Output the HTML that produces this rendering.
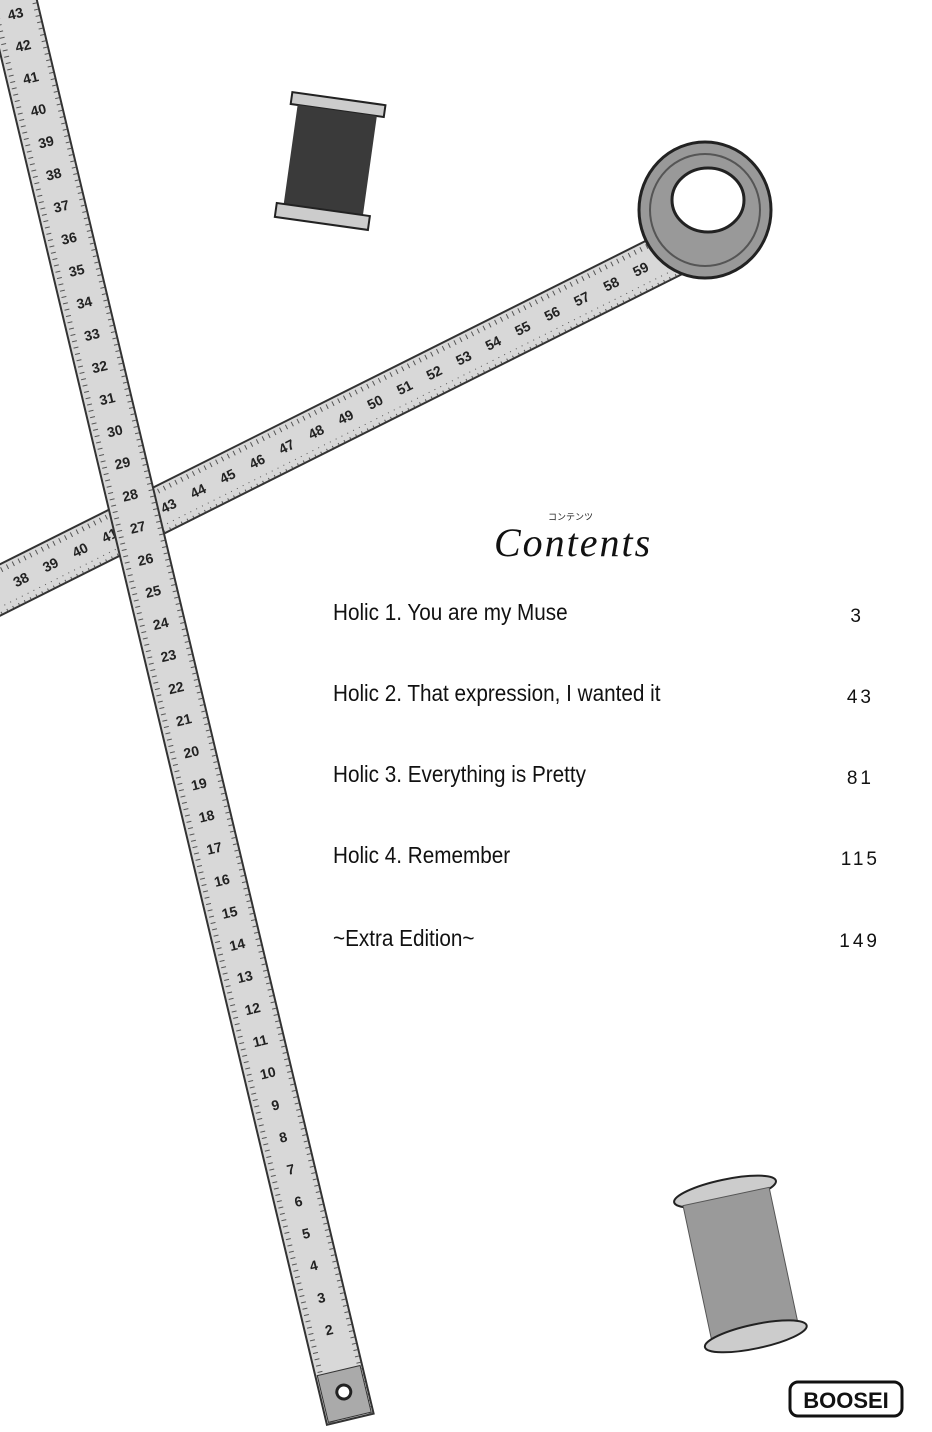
<!DOCTYPE html>
<html><head><meta charset="utf-8"><style>
html,body{margin:0;padding:0;background:#fff;}
svg{display:block}
.t{font-family:"Liberation Sans","Noto Sans CJK JP",sans-serif;}
</style></head><body>
<svg width="932" height="1432" viewBox="0 0 932 1432" xmlns="http://www.w3.org/2000/svg">
<defs>
<pattern id="tick" width="6.5" height="10" patternUnits="userSpaceOnUse">
<rect x="0" y="0" width="1" height="6" fill="#555"/>
</pattern>
<pattern id="tickv" width="10" height="6.5" patternUnits="userSpaceOnUse">
<rect x="0" y="0" width="6" height="1" fill="#555"/>
</pattern>
</defs>

<!-- diagonal tape -->
<g transform="translate(-20,600) rotate(-26.6)">
<rect x="0" y="-23" width="790" height="46" fill="#d8d8d8" stroke="#333" stroke-width="2"/>
<rect x="0" y="-22" width="790" height="7" fill="url(#tick)"/>
<rect x="0" y="15" width="790" height="7" fill="url(#tick)"/>
<g class="t" font-size="14" fill="#222" font-weight="bold">
<text transform="translate(38,5)">38</text>
<text transform="translate(71,5)">39</text>
<text transform="translate(104,5)">40</text>
<text transform="translate(137,5)">41</text>
<text transform="translate(170,5)">42</text>
<text transform="translate(203,5)">43</text>
<text transform="translate(236,5)">44</text>
<text transform="translate(269,5)">45</text>
<text transform="translate(302,5)">46</text>
<text transform="translate(335,5)">47</text>
<text transform="translate(368,5)">48</text>
<text transform="translate(401,5)">49</text>
<text transform="translate(434,5)">50</text>
<text transform="translate(467,5)">51</text>
<text transform="translate(500,5)">52</text>
<text transform="translate(533,5)">53</text>
<text transform="translate(566,5)">54</text>
<text transform="translate(599,5)">55</text>
<text transform="translate(632,5)">56</text>
<text transform="translate(665,5)">57</text>
<text transform="translate(698,5)">58</text>
<text transform="translate(731,5)">59</text>
</g>
</g>
<!-- coil -->
<ellipse cx="705" cy="210" rx="66" ry="68" fill="#999" stroke="#222" stroke-width="3"/>
<ellipse cx="705" cy="210" rx="55" ry="56" fill="none" stroke="#555" stroke-width="2"/>
<ellipse cx="708" cy="200" rx="36" ry="32" fill="#fff" stroke="#222" stroke-width="3"/>

<!-- vertical tape -->
<g transform="translate(4,-30) rotate(-13.4)">
<rect x="-23" y="0" width="48" height="1490" fill="#d8d8d8" stroke="#333" stroke-width="2"/>
<rect x="-22" y="0" width="7" height="1490" fill="url(#tickv)"/>
<rect x="17" y="0" width="7" height="1490" fill="url(#tickv)"/>
<g class="t" font-size="14" fill="#222" font-weight="bold" text-anchor="middle">
<text x="1" y="50">43</text><text x="1" y="83">42</text><text x="1" y="116">41</text>
<text x="1" y="149">40</text><text x="1" y="182">39</text><text x="1" y="215">38</text>
<text x="1" y="248">37</text><text x="1" y="281">36</text><text x="1" y="314">35</text>
<text x="1" y="347">34</text><text x="1" y="380">33</text><text x="1" y="413">32</text>
<text x="1" y="446">31</text><text x="1" y="479">30</text><text x="1" y="512">29</text>
<text x="1" y="545">28</text><text x="1" y="578">27</text><text x="1" y="611">26</text>
<text x="1" y="644">25</text><text x="1" y="677">24</text><text x="1" y="710">23</text>
<text x="1" y="743">22</text><text x="1" y="776">21</text><text x="1" y="809">20</text>
<text x="1" y="842">19</text><text x="1" y="875">18</text><text x="1" y="908">17</text>
<text x="1" y="941">16</text><text x="1" y="974">15</text><text x="1" y="1007">14</text>
<text x="1" y="1040">13</text><text x="1" y="1073">12</text><text x="1" y="1106">11</text>
<text x="1" y="1139">10</text><text x="1" y="1172">9</text><text x="1" y="1205">8</text>
<text x="1" y="1238">7</text><text x="1" y="1271">6</text><text x="1" y="1304">5</text>
<text x="1" y="1337">4</text><text x="1" y="1370">3</text><text x="1" y="1403">2</text>
</g>
<rect x="-21" y="1440" width="44" height="48" fill="#aaa" stroke="#333"/>
<circle cx="1" cy="1462" r="7" fill="#fff" stroke="#222" stroke-width="3"/>
</g>

<!-- top spool -->
<g transform="rotate(8,330,162)">
<rect x="283" y="98" width="94" height="12" fill="#ccc" stroke="#222" stroke-width="2"/>
<rect x="290" y="110" width="80" height="100" fill="#3a3a3a"/>
<rect x="283" y="210" width="94" height="14" fill="#ccc" stroke="#222" stroke-width="2"/>
</g>
<!-- bottom spool -->
<g transform="rotate(-12,740,1262)">
<ellipse cx="740" cy="1190" rx="52" ry="12" fill="#ccc" stroke="#222" stroke-width="2"/>
<rect x="696" y="1195" width="88" height="140" fill="#9a9a9a" stroke="#555"/>
<ellipse cx="740" cy="1338" rx="52" ry="12" fill="#ccc" stroke="#222" stroke-width="2"/>
</g>

<!-- Contents -->
<text x="548" y="520" class="t" font-size="9" fill="#222">コンテンツ</text>
<text x="494" y="556" font-family="Liberation Serif,serif" font-style="italic" font-size="40" fill="#111" letter-spacing="2">Contents</text>

<g class="t" font-size="23" fill="#111" transform="scale(0.9,1)">
<text x="370" y="620">Holic 1.   You are my Muse</text>
<text x="370" y="701">Holic 2.  That expression, I wanted it</text>
<text x="370" y="782">Holic 3.  Everything is Pretty</text>
<text x="370" y="863">Holic 4.  Remember</text>
<text x="370" y="946">~Extra Edition~</text>
</g>
<g class="t" font-size="19" fill="#111" text-anchor="end" letter-spacing="3">
<text x="864" y="622">3</text>
<text x="874" y="703">43</text>
<text x="874" y="784">81</text>
<text x="880" y="865">115</text>
<text x="880" y="947">149</text>
</g>

<!-- logo -->
<rect x="790" y="1382" width="112" height="34" rx="8" fill="#fff" stroke="#111" stroke-width="3"/>
<text x="846" y="1408" class="t" font-size="22" font-weight="bold" text-anchor="middle" fill="#111">BOOSEI</text>
</svg>
</body></html>
